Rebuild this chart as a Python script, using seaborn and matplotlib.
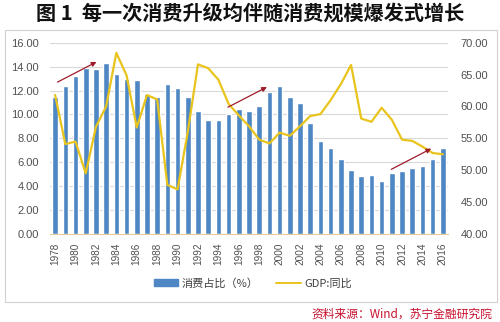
import matplotlib
matplotlib.use("Agg")
import matplotlib.pyplot as plt
import seaborn as sns
import numpy as np
import pandas as pd
from matplotlib.patches import Rectangle, FancyArrowPatch
from matplotlib.lines import Line2D

years = list(range(1978, 2017))
consumption_share = [11.5, 12.4, 13.2, 13.9, 13.8, 14.3, 13.4, 13.0, 12.85, 11.75,
                     11.45, 12.55, 12.2, 11.45, 10.3, 9.55, 9.55, 10.0, 10.45, 10.3,
                     10.7, 11.9, 12.4, 11.5, 10.95, 9.25, 7.8, 7.2, 6.3, 5.35,
                     4.85, 4.9, 4.45, 5.1, 5.3, 5.5, 5.65, 6.3, 7.2]
gdp_yoy = [61.8, 54.1, 54.5, 49.5, 56.8, 60.0, 68.4, 64.9, 56.7, 61.8,
           61.1, 47.7, 47.0, 56.0, 66.6, 66.0, 64.2, 60.4, 58.6, 56.9,
           54.8, 54.2, 55.9, 55.4, 56.9, 58.5, 58.8, 61.0, 63.5, 66.5,
           58.1, 57.6, 59.8, 57.9, 54.8, 54.6, 53.7, 52.7, 52.5]
left_ticks = [0, 2, 4, 6, 8, 10, 12, 14, 16]
right_ticks = [40, 45, 50, 55, 60, 65, 70]
# arrows: (start index, start value, end index, end value) on left axis
arrows = [(0.0, 12.6, 4.3, 14.5), (16.7, 10.5, 21.0, 12.4), (32.7, 5.3, 37.1, 7.25)]

sns.set_theme(style="white")
plt.rcParams['font.family'] = ['Noto Sans CJK SC', 'DejaVu Sans']

bar_color = "#4e87c4"
line_color = "#e8c41c"
grid_color = "#d9d9d9"
tick_color = "#505050"
num_font = "Liberation Sans"

fig = plt.figure(figsize=(5.0, 3.22), dpi=100)
fig.patch.set_facecolor("white")

# outer border box
fig.add_artist(Rectangle((5 / 500, 1 - 302 / 322), 492 / 500, 272 / 322,
                         transform=fig.transFigure, fill=False,
                         edgecolor="#d0d0d0", linewidth=0.8))

ax = fig.add_axes([50 / 500, 1 - 234 / 322, 398 / 500, 191.3 / 322])
df = pd.DataFrame({"year": [str(y) for y in years], "share": consumption_share})
sns.barplot(data=df, x="year", y="share", color=bar_color, saturation=1,
            width=0.55, ax=ax, zorder=2)
ax.set_ylim(0, 16)
ax.set_xlim(-0.5, len(years) - 0.5)
ax.set_yticks(left_ticks)
ax.set_yticklabels([f"{v:.2f}" for v in left_ticks], fontsize=8, color=tick_color,
                   family=num_font)
ax.set_xticks(range(0, len(years), 2))
ax.set_xticklabels([str(y) for y in years[::2]], rotation=90, fontsize=7.2,
                   color=tick_color, family=num_font)
ax.tick_params(axis="x", length=3, color="#e8c9a0", pad=3)
ax.tick_params(axis="y", length=0, pad=8)
ax.set_xlabel("")
ax.set_ylabel("")
for v in left_ticks[1:]:
    ax.axhline(v, color=grid_color, linewidth=0.8, zorder=0)
for s in ["top", "right", "left"]:
    ax.spines[s].set_visible(False)
ax.spines["bottom"].set_color("#e8c9a0")
ax.spines["bottom"].set_linewidth(0.8)

ax2 = ax.twinx()
sns.lineplot(x=np.arange(len(years)), y=gdp_yoy, color=line_color, linewidth=1.6,
             ax=ax2, zorder=3)
ax2.set_ylim(40, 70)
ax2.set_xlim(-0.5, len(years) - 0.5)
ax2.set_yticks(right_ticks)
ax2.set_yticklabels([f"{v:.2f}" for v in right_ticks], fontsize=8, color=tick_color,
                    family=num_font)
ax2.tick_params(axis="y", length=0, pad=9)
for s in ["top", "right", "left", "bottom"]:
    ax2.spines[s].set_visible(False)

for x0, y0, x1, y1 in arrows:
    ax2.add_patch(FancyArrowPatch((x0, 40 + y0 * 30 / 16), (x1, 40 + y1 * 30 / 16),
                                  arrowstyle="-|>", mutation_scale=7,
                                  color="#a01c2c", linewidth=0.9, zorder=5))

handles = [Rectangle((0, 0), 1, 1, color=bar_color),
           Line2D([0], [0], color=line_color, linewidth=1.4)]
fig.legend(handles, ["消费占比（%）", "GDP:同比"], loc="center",
           bbox_to_anchor=(253 / 500, 1 - 283 / 322), ncol=2, frameon=False,
           fontsize=8, handlelength=2.2, handleheight=0.5, columnspacing=1.6,
           handletextpad=0.3, labelcolor="#404040")

fig.text(250 / 500, 1 - 13 / 322, "图 1  每一次消费升级均伴随消费规模爆发式增长",
         ha="center", va="center", fontsize=14.5, fontweight="bold", color="#111111")
fig.text(492 / 500, 1 - 314 / 322, "资料来源：Wind，苏宁金融研究院", ha="right",
         va="center", fontsize=8.5, color="#c8102e", style="italic")

fig.savefig("out.png", dpi=100, facecolor="white")
